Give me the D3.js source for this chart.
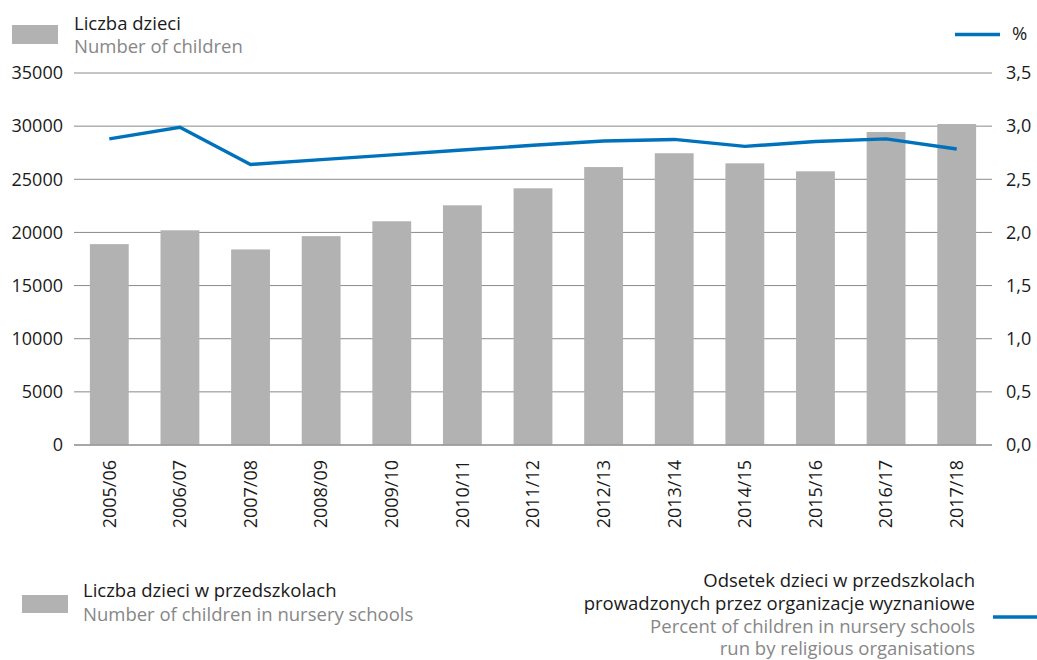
<!DOCTYPE html>
<html>
<head>
<meta charset="utf-8">
<script src="https://cdn.jsdelivr.net/npm/d3@7"></script>
<style>
  body { margin: 0; background: #fff; }
  svg text { font-family: "Open Sans", "DejaVu Sans", sans-serif; }
</style>
</head>
<body>
<div id="chartArea"></div>
<script>
// lata szkolne
var years = ["2005/06", "2006/07", "2007/08", "2008/09", "2009/10", "2010/11", "2011/12",
             "2012/13", "2013/14", "2014/15", "2015/16", "2016/17", "2017/18"];
// liczba dzieci w przedszkolach
var children = [18900, 20200, 18400, 19650, 21050, 22550, 24150, 26150, 27450, 26500, 25750, 29450, 30200];
// odsetek dzieci w przedszkolach wyznaniowych (%)
var percent = [2.88, 2.99, 2.64, 2.685, 2.73, 2.775, 2.82, 2.86, 2.875, 2.81, 2.855, 2.88, 2.785];

var leftTicks = [0, 5000, 10000, 15000, 20000, 25000, 30000, 35000];
var rightTicks = [0, 0.5, 1, 1.5, 2, 2.5, 3, 3.5];

var barColor = "#b2b2b2", lineColor = "#0072bc", gridColor = "#8a8a8a",
    textColor = "#1a1a1a", greyText = "#878787";

var svg = d3.select("#chartArea").append("svg")
    .attr("width", 1037).attr("height", 660);

var margin = { top: 73, left: 74, right: 45, bottom: 215 },
    width = 1037 - margin.left - margin.right,
    height = 660 - margin.top - margin.bottom;

var g = svg.append("g").attr("transform", "translate(" + margin.left + "," + margin.top + ")");

var x = d3.scaleBand().domain(years).range([0, width]).paddingInner(0.45).paddingOuter(0.225);
var y = d3.scaleLinear().domain([0, 35000]).range([height, 0]);
var y2 = d3.scaleLinear().domain([0, 3.5]).range([height, 0]);

// siatka
g.append("g").selectAll("line").data(leftTicks).enter().append("line")
    .attr("x1", 0).attr("x2", width)
    .attr("y1", function(d) { return y(d); }).attr("y2", function(d) { return y(d); })
    .style("stroke", gridColor).style("stroke-width", 1);

// słupki
g.append("g").selectAll("rect").data(children).enter().append("rect")
    .attr("x", function(d, i) { return x(years[i]); })
    .attr("y", function(d) { return y(d); })
    .attr("width", x.bandwidth())
    .attr("height", function(d) { return height - y(d); })
    .style("fill", barColor);

// oś zero na wierzchu
g.append("line").attr("x1", 0).attr("x2", width).attr("y1", y(0)).attr("y2", y(0))
    .style("stroke", gridColor).style("stroke-width", 1);

// linia %
var line = d3.line()
    .x(function(d, i) { return x(years[i]) + x.bandwidth() / 2; })
    .y(function(d) { return y2(d); });
g.append("path").datum(percent).attr("d", line)
    .style("fill", "none").style("stroke", lineColor).style("stroke-width", 3.4);

// osie
var axL = g.append("g").call(d3.axisLeft(y).tickValues(leftTicks).tickSize(0).tickPadding(11).tickFormat(d3.format("d")));
var axR = g.append("g").attr("transform", "translate(" + width + ",0)")
    .call(d3.axisRight(y2).tickValues(rightTicks).tickSize(0).tickPadding(14)
        .tickFormat(function(d) { return d3.format(".1f")(d).replace(".", ","); }));
var axB = g.append("g").attr("transform", "translate(0," + height + ")")
    .call(d3.axisBottom(x).tickSize(0));
axB.selectAll("text")
    .attr("transform", "rotate(-90)")
    .attr("x", -15).attr("y", 0).attr("dy", "0.35em")
    .style("text-anchor", "end");
[axL, axR, axB].forEach(function(a) {
    a.select(".domain").remove();
    a.selectAll("text").style("font-size", "18px").style("fill", textColor);
});

// legenda górna
svg.append("rect").attr("x", 12).attr("y", 25).attr("width", 46).attr("height", 19).style("fill", barColor);
svg.append("text").attr("x", 74).attr("y", 30).style("font-size", "18.5px").style("fill", textColor).text("Liczba dzieci");
svg.append("text").attr("x", 74).attr("y", 53).style("font-size", "18.5px").style("fill", greyText).text("Number of children");
svg.append("line").attr("x1", 955).attr("x2", 1000).attr("y1", 34.5).attr("y2", 34.5)
    .style("stroke", lineColor).style("stroke-width", 3.4);
svg.append("text").attr("x", 1012).attr("y", 40).style("font-size", "18.5px").style("fill", textColor).text("%");

// legenda dolna
svg.append("rect").attr("x", 22).attr("y", 595).attr("width", 46).attr("height", 18).style("fill", barColor);
svg.append("text").attr("x", 83).attr("y", 597).style("font-size", "18.5px").style("fill", textColor).text("Liczba dzieci w przedszkolach");
svg.append("text").attr("x", 83).attr("y", 621).style("font-size", "18.5px").style("fill", greyText).text("Number of children in nursery schools");

var rightLegend = [
    { t: "Odsetek dzieci w przedszkolach", c: textColor, y: 587 },
    { t: "prowadzonych przez organizacje wyznaniowe", c: textColor, y: 610 },
    { t: "Percent of children in nursery schools", c: greyText, y: 633 },
    { t: "run by religious organisations", c: greyText, y: 655 }
];
svg.append("g").selectAll("text").data(rightLegend).enter().append("text")
    .attr("x", 975).attr("y", function(d) { return d.y; })
    .style("text-anchor", "end").style("font-size", "18.5px")
    .style("fill", function(d) { return d.c; })
    .text(function(d) { return d.t; });
svg.append("line").attr("x1", 993).attr("x2", 1037).attr("y1", 617).attr("y2", 617)
    .style("stroke", lineColor).style("stroke-width", 3.4);
</script>
</body>
</html>
